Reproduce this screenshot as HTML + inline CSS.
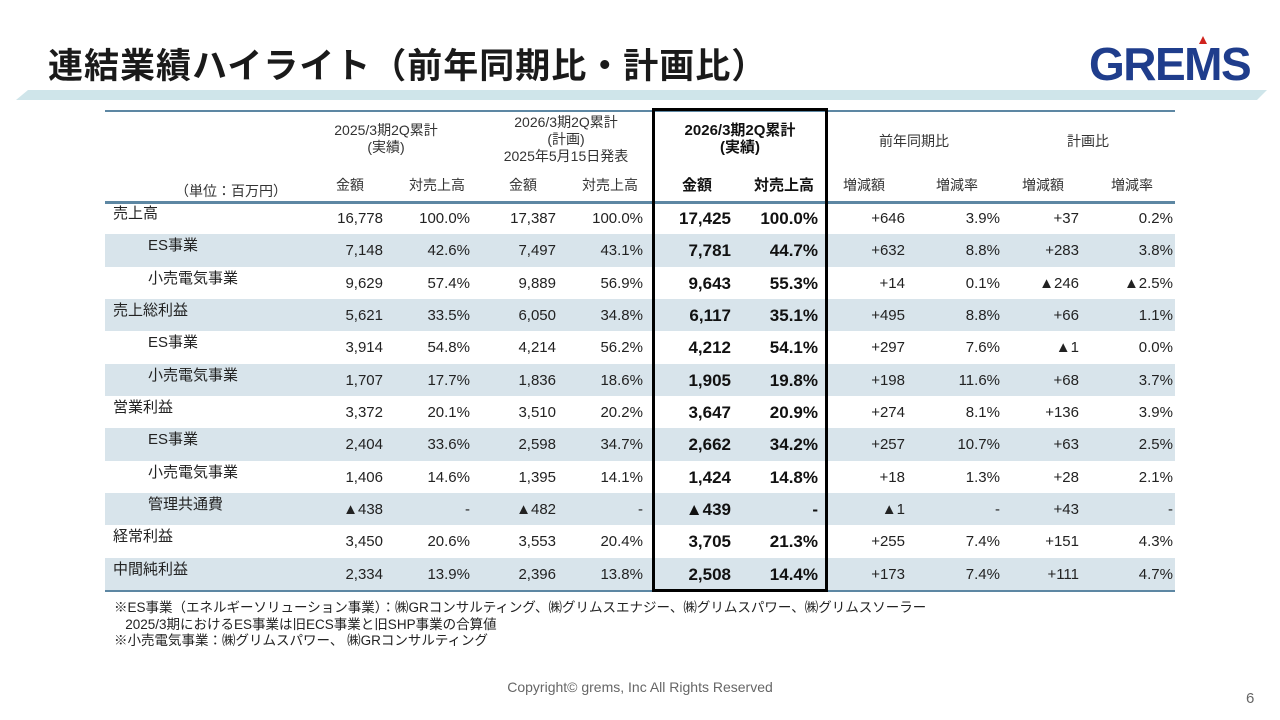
<!DOCTYPE html>
<html><head><meta charset="utf-8">
<style>
body{margin:0;width:1280px;height:720px;background:#fff;position:relative;overflow:hidden;font-family:"Liberation Sans","Noto Sans CJK JP",sans-serif;color:#222}
.a{position:absolute;white-space:nowrap}
.h{font-size:14px;text-align:center;line-height:17px;color:#333}
.c{font-size:15px;line-height:32px}
.b{font-weight:bold;font-size:17px;color:#111}
</style></head><body>
<div class="a" style="left:48px;top:38px;font-size:35px;font-weight:bold;color:#1a1a1a;letter-spacing:1px">連結業績ハイライト（前年同期比・計画比）</div>
<div class="a" style="left:1089px;top:37px;font-size:46px;font-weight:bold;color:#1f3d8c;letter-spacing:-1.5px">GREMS</div>
<div class="a" style="left:1199px;top:36px;width:0;height:0;border-left:4px solid transparent;border-right:4px solid transparent;border-bottom:8px solid #d0231d"></div>
<svg class="a" style="left:0;top:0" width="1280" height="720"><polygon points="28,90 1267,90 1257,100 16,100" fill="#cfe5ea"/></svg>
<div id="tbl"></div>
<div class="a" style="left:114px;top:600px;font-size:13.5px;line-height:16.5px;color:#222">※ES事業（エネルギーソリューション事業）：㈱GRコンサルティング、㈱グリムスエナジー、㈱グリムスパワー、㈱グリムスソーラー<br>&nbsp;&nbsp;&nbsp;2025/3期におけるES事業は旧ECS事業と旧SHP事業の合算値<br>※小売電気事業：㈱グリムスパワー、 ㈱GRコンサルティング</div>
<div class="a" style="left:0;width:1280px;text-align:center;top:679px;font-size:14px;color:#666">Copyright© grems, Inc All Rights Reserved</div>
<div class="a" style="left:1246px;top:690px;font-size:15px;color:#666">6</div>
<script>
const labels=["売上高","ES事業","小売電気事業","売上総利益","ES事業","小売電気事業","営業利益","ES事業","小売電気事業","管理共通費","経常利益","中間純利益"];
const indent=[0,1,1,0,1,1,0,1,1,1,0,0];
const prevAmt=["16,778","7,148","9,629","5,621","3,914","1,707","3,372","2,404","1,406","▲438","3,450","2,334"];
const prevPct=["100.0%","42.6%","57.4%","33.5%","54.8%","17.7%","20.1%","33.6%","14.6%","-","20.6%","13.9%"];
const planAmt=["17,387","7,497","9,889","6,050","4,214","1,836","3,510","2,598","1,395","▲482","3,553","2,396"];
const planPct=["100.0%","43.1%","56.9%","34.8%","56.2%","18.6%","20.2%","34.7%","14.1%","-","20.4%","13.8%"];
const actAmt=["17,425","7,781","9,643","6,117","4,212","1,905","3,647","2,662","1,424","▲439","3,705","2,508"];
const actPct=["100.0%","44.7%","55.3%","35.1%","54.1%","19.8%","20.9%","34.2%","14.8%","-","21.3%","14.4%"];
const yoyAmt=["+646","+632","+14","+495","+297","+198","+274","+257","+18","▲1","+255","+173"];
const yoyPct=["3.9%","8.8%","0.1%","8.8%","7.6%","11.6%","8.1%","10.7%","1.3%","-","7.4%","7.4%"];
const vsAmt=["+37","+283","▲246","+66","▲1","+68","+136","+63","+28","+43","+151","+111"];
const vsPct=["0.2%","3.8%","▲2.5%","1.1%","0.0%","3.7%","3.9%","2.5%","2.1%","-","4.3%","4.7%"];
const cols=[prevAmt,prevPct,planAmt,planPct,actAmt,actPct,yoyAmt,yoyPct,vsAmt,vsPct];
const rights=[383,470,556,643,731,818,905,1000,1079,1173];
const T=document.getElementById('tbl');
function add(html,style,cls){const d=document.createElement('div');d.className='a '+(cls||'');d.style.cssText=style;d.innerHTML=html;T.appendChild(d);return d;}
const y0=202,rh=32.33;
for(let i=0;i<12;i++){
  const y=y0+i*rh;
  if(i%2===1){const s=add('','left:105px;top:'+y+'px;width:1070px;height:'+rh+'px;background:#d8e4eb');
  
  }
  const l=add(labels[i],'left:'+(indent[i]?148:113)+'px;top:'+(y-4)+'px;','c');
  
  
  for(let j=0;j<10;j++){
    const bold=(j===4||j===5);
    const c=add(cols[j][i],'right:'+(1280-rights[j])+'px;top:'+(y+1)+'px;','c'+(bold?' b':''));
    
    
  }
}
const lines=[[110,2],[201,3],[590,2]];
for(const [y,h] of lines){const ln=add('','left:105px;top:'+y+'px;width:1070px;height:'+h+'px;background:#5d87a3');

}
const heads=[["2025/3期2Q累計<br>(実績)",386,122,''],["2026/3期2Q累計<br>(計画)<br>2025年5月15日発表",566,114,''],["2026/3期2Q累計<br>(実績)",740,122,'font-weight:bold;font-size:15px;color:#111;'],["前年同期比",914,133,''],["計画比",1088,133,'']];
for(const [t,cx,ty,st] of heads){const h=add(t,'left:'+(cx-90)+'px;width:180px;top:'+ty+'px;'+st,'h');

}
const subs=["金額","対売上高","金額","対売上高","金額","対売上高","増減額","増減率","増減額","増減率"];
const subc=[350,437,523,610,697,784,864,957,1043,1132];
for(let j=0;j<10;j++){const bold=(j===4||j===5);
const s=add(subs[j],'left:'+(subc[j]-50)+'px;width:100px;top:177px;'+(bold?'font-weight:bold;font-size:15px;color:#111;':''),'h');

}
const u=add('（単位：百万円）','left:175px;top:183px;','h');


const box=add('','left:652px;top:108px;width:170px;height:478px;border:3px solid #000;');


</script>
</body></html>
